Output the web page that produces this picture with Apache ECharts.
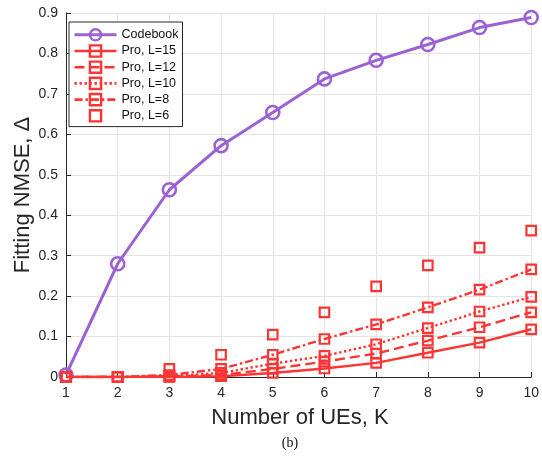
<!DOCTYPE html>
<html>
<head>
<meta charset="utf-8">
<script src="https://cdn.jsdelivr.net/npm/echarts@6/dist/echarts.min.js"></script>
<style>html,body{margin:0;padding:0;background:#fff}#c{width:542px;height:464px}</style>
</head>
<body>
<div id="c"></div>
<script>
const K = [1, 2, 3, 4, 5, 6, 7, 8, 9, 10];
const codebook = [0.005, 0.28, 0.463, 0.572, 0.654, 0.737, 0.783, 0.822, 0.864, 0.889];
const pro15 = [0, 0, 0, 0.002, 0.01, 0.021, 0.035, 0.06, 0.085, 0.118];
const pro12 = [0, 0, 0.001, 0.005, 0.02, 0.038, 0.058, 0.09, 0.123, 0.16];
const pro10 = [0, 0, 0.002, 0.01, 0.033, 0.052, 0.081, 0.121, 0.162, 0.198];
const pro8 = [0, 0, 0.005, 0.02, 0.055, 0.094, 0.13, 0.172, 0.216, 0.266];
const pro6 = [0, 0, 0.02, 0.055, 0.105, 0.16, 0.224, 0.276, 0.32, 0.362];
const names = ['Codebook', 'Pro, L=15', 'Pro, L=12', 'Pro, L=10', 'Pro, L=8', 'Pro, L=6'];
const yTicks = [0, 0.1, 0.2, 0.3, 0.4, 0.5, 0.6, 0.7, 0.8, 0.9];

const PURPLE = '#9a62d2';
const RED = '#ff3535';
const AX = '#262626';
const FONT = '"Liberation Sans", Arial, Helvetica, sans-serif';

function pairs(arr) { return K.map((k, i) => [k, arr[i]]); }

const redTypes = { 'Pro, L=15': 'solid', 'Pro, L=12': [10, 5], 'Pro, L=10': [2.4, 2.6], 'Pro, L=8': [8, 3, 2.4, 3], 'Pro, L=6': 'solid' };

function redSeries(name, arr, showLine) {
  return {
    name: name, type: 'line', data: pairs(arr),
    symbol: 'rect', symbolSize: 9.5,
    itemStyle: { color: 'rgba(255,255,255,0)', borderColor: RED, borderWidth: 2.2 },
    lineStyle: { color: RED, width: showLine ? 2.4 : 0, type: redTypes[name], cap: 'butt', opacity: showLine ? 1 : 0 },
    z: 3
  };
}

const legendData = names.map((n, i) => i === 0
  ? { name: n, lineStyle: { width: 3, color: PURPLE }, itemStyle: { borderWidth: 2.4 } }
  : (n === 'Pro, L=6'
    ? { name: n, itemStyle: { borderWidth: 2.4 } }
    : { name: n, lineStyle: { width: 2.6, color: RED, type: redTypes[n] }, itemStyle: { borderWidth: 2.4 } }));

const chart = echarts.init(document.getElementById('c'), null, { renderer: 'canvas' });
chart.setOption({
  animation: false,
  backgroundColor: '#fff',
  grid: { left: 66, right: 7, top: 13, bottom: 87, containLabel: false },
  xAxis: {
    type: 'value', min: 1, max: 10, interval: 1,
    axisLine: { show: true, lineStyle: { color: AX, width: 1 } },
    axisTick: { show: true, inside: true, length: 5, lineStyle: { color: AX } },
    axisLabel: { color: AX, fontSize: 14, fontFamily: FONT, margin: 9 },
    splitLine: { show: true, lineStyle: { color: '#e4e4e4', width: 1 } }
  },
  yAxis: {
    type: 'value', min: 0, max: 0.9, interval: 0.1,
    axisLine: { show: true, lineStyle: { color: AX, width: 1 } },
    axisTick: { show: true, inside: true, length: 5, lineStyle: { color: AX } },
    axisLabel: { color: AX, fontSize: 14, fontFamily: FONT, margin: 8,
      formatter: v => { const t = yTicks.find(y => Math.abs(y - v) < 1e-9); return t === 0 ? '0' : (t !== undefined ? t.toFixed(1) : ''); } },
    splitLine: { show: true, lineStyle: { color: '#e4e4e4', width: 1 } }
  },
  legend: {
    orient: 'vertical', left: 69, top: 22,
    backgroundColor: '#fff', borderColor: AX, borderWidth: 1, borderRadius: 0,
    padding: [6, 4, 4, 4], itemGap: 2.6, itemWidth: 42, itemHeight: 14,
    textStyle: { color: '#111', fontSize: 12.5, fontFamily: FONT },
    data: legendData
  },
  graphic: [
    { type: 'text', x: 300, y: 418, style: { text: 'Number of UEs, K', font: '22px ' + FONT, fill: AX, textAlign: 'center', textVerticalAlign: 'middle' } },
    { type: 'text', x: 23, y: 195, rotation: Math.PI / 2, style: { text: 'Fitting NMSE, \u0394', font: '22px ' + FONT, fill: AX, textAlign: 'center', textVerticalAlign: 'middle' } },
    { type: 'text', x: 290, y: 443, style: { text: '(b)', font: '14px "Liberation Serif", "Times New Roman", serif', fill: '#111', textAlign: 'center', textVerticalAlign: 'middle' } }
  ],
  series: [
    {
      name: 'Codebook', type: 'line', data: pairs(codebook),
      symbol: 'circle', symbolSize: 13,
      itemStyle: { color: 'rgba(255,255,255,0)', borderColor: PURPLE, borderWidth: 2.6 },
      lineStyle: { color: PURPLE, width: 3 },
      z: 2
    },
    redSeries('Pro, L=15', pro15, true),
    redSeries('Pro, L=12', pro12, true),
    redSeries('Pro, L=10', pro10, true),
    redSeries('Pro, L=8', pro8, true),
    redSeries('Pro, L=6', pro6, false)
  ]
});
</script>
</body>
</html>
